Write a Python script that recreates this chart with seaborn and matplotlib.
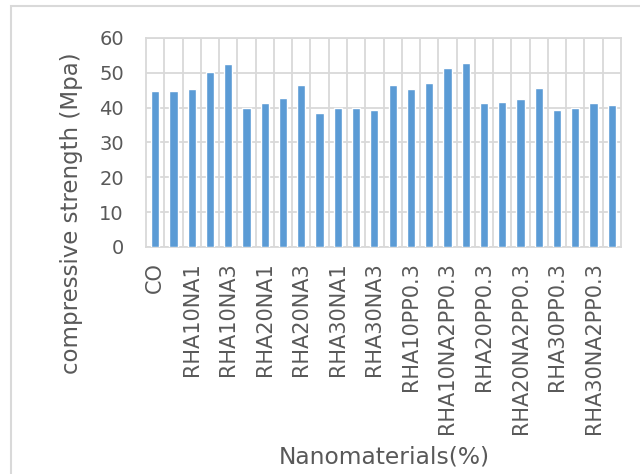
import matplotlib
matplotlib.use("Agg")
import matplotlib.pyplot as plt
from matplotlib.patches import Rectangle
import seaborn as sns
import pandas as pd

categories = [
    "CO", "RHA10", "RHA10NA1", "RHA10NA2", "RHA10NA3",
    "RHA20", "RHA20NA1", "RHA20NA2", "RHA20NA3",
    "RHA30", "RHA30NA1", "RHA30NA2", "RHA30NA3",
    "COPP0.3", "RHA10PP0.3", "RHA10NA1PP0.3", "RHA10NA2PP0.3", "RHA10NA3PP0.3",
    "RHA20PP0.3", "RHA20NA1PP0.3", "RHA20NA2PP0.3", "RHA20NA3PP0.3",
    "RHA30PP0.3", "RHA30NA1PP0.3", "RHA30NA2PP0.3", "RHA30NA3PP0.3",
]
strength = [
    44.9, 44.9, 45.3, 50.1, 52.6, 40.0, 41.3, 42.9, 46.6, 38.6, 40.0, 40.0, 39.2,
    46.6, 45.3, 47.0, 51.3, 52.9, 41.3, 41.7, 42.6, 45.7, 39.2, 40.0, 41.3, 40.9,
]
y_ticks = [0, 10, 20, 30, 40, 50, 60]

TXT = "#595959"
GRID = "#D9D9D9"
BAR = "#5B9BD5"

sns.set_theme(style="white")
plt.rcParams["font.family"] = ["DejaVu Sans"]

df = pd.DataFrame({"cat": categories, "val": strength})

W, H = 640, 474
fig = plt.figure(figsize=(W / 100, H / 100), dpi=100)
L, R, T, B = 146, 621, 38, 247
ax = fig.add_axes([L / W, 1 - B / H, (R - L) / W, (B - T) / H])

sns.barplot(data=df, x="cat", y="val", order=categories, color=BAR,
            width=0.45, ax=ax, saturation=1, zorder=3)

ax.set_ylim(0, 60)
ax.set_xlim(-0.5, len(categories) - 0.5)
ax.set_yticks(y_ticks)
ax.set_yticklabels([str(t) for t in y_ticks], color=TXT, fontsize=14)
ax.set_xticks(range(len(categories)))
ax.set_xticklabels([c if i % 2 == 0 else "" for i, c in enumerate(categories)],
                   rotation=90, color=TXT, fontsize=15)
ax.tick_params(axis="both", length=0)
ax.tick_params(axis="x", pad=11)
ax.tick_params(axis="y", pad=16)

ax.set_xticks([i + 0.5 for i in range(len(categories) - 1)], minor=True)
ax.tick_params(axis="x", which="minor", length=0)
ax.grid(True, axis="y", which="major", color=GRID, linewidth=1.3, zorder=0)
ax.grid(True, axis="x", which="minor", color=GRID, linewidth=1.3, zorder=0)
ax.grid(False, axis="x", which="major")
for s in ax.spines.values():
    s.set_color(GRID)
    s.set_linewidth(1.3)
ax.set_xlabel("")
ax.set_ylabel("")

fig.text(72 / W, 1 - 213 / H, "compressive strength (Mpa)", rotation=90,
         ha="center", va="center", color=TXT, fontsize=16.5)
fig.text(384 / W, 1 - 457 / H, "Nanomaterials(%)", ha="center", va="center",
         color=TXT, fontsize=16.8)

fig.patches.append(Rectangle((11 / W, -0.1), 1.0, (H - 6) / H + 0.1,
                             transform=fig.transFigure, fill=False,
                             edgecolor=GRID, linewidth=1.5))

fig.savefig("out.png", dpi=100)
